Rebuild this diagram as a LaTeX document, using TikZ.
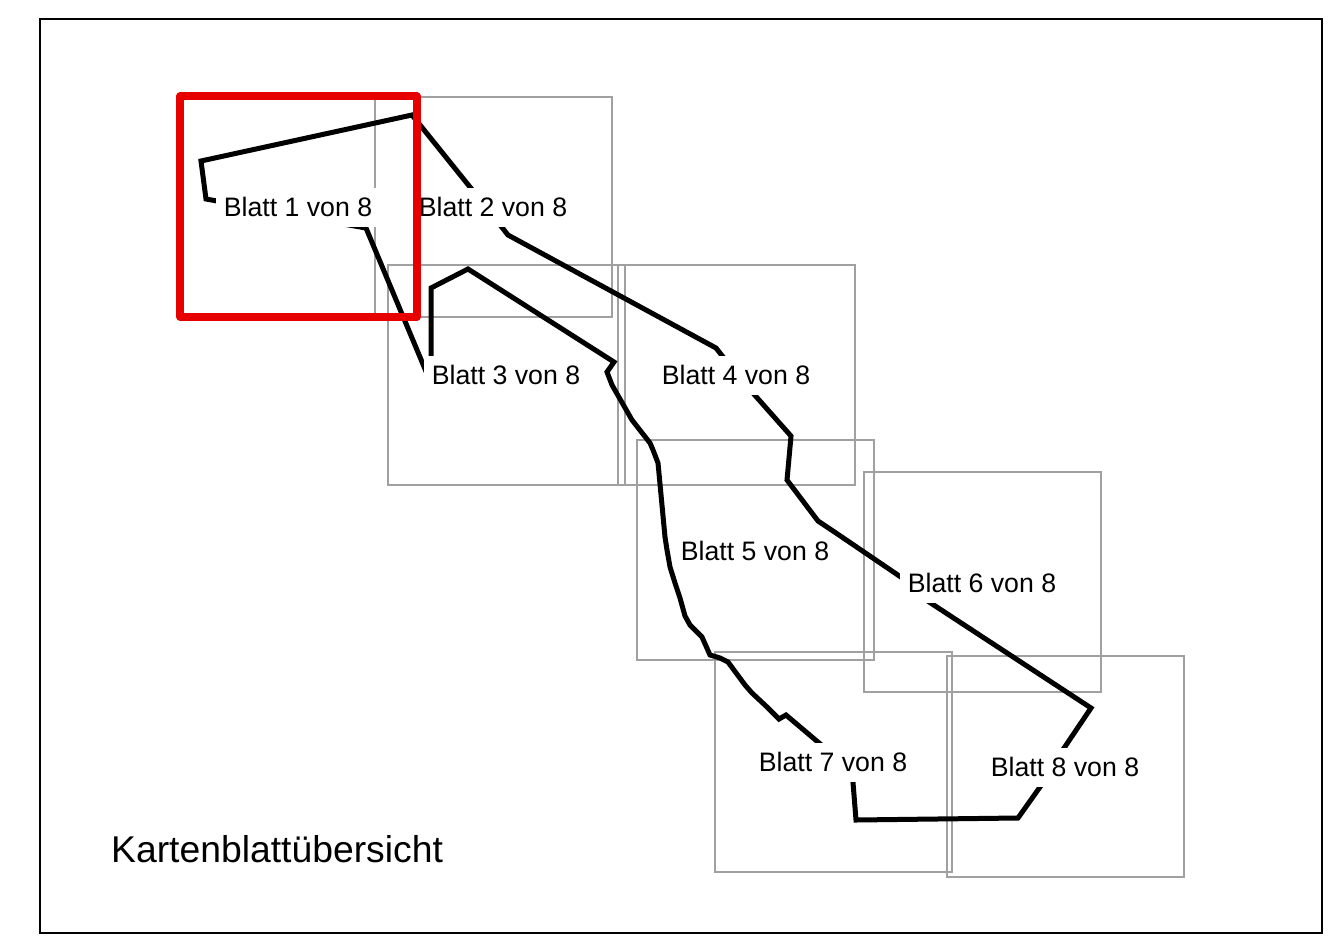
\documentclass[tikz,border=0pt]{standalone}
\usepackage{fontspec}
\setmainfont{Liberation Sans}
\definecolor{sheetgray}{RGB}{160,160,160}
\definecolor{sheetred}{RGB}{230,0,0}
\pgfdeclarelayer{under}
\pgfsetlayers{under,main}
\tikzset{
  x=1pt,y=-1pt,
  sheet/.style={draw=sheetgray,line width=2.5pt},
  route/.style={draw=black,line width=5pt,line join=miter,miter limit=4,line cap=butt},
  lbl/.style={font=\fontsize{26.7}{30}\selectfont,inner sep=0pt,anchor=center,text=black,fill=white,minimum width=164pt,minimum height=39pt},
  ttl/.style={font=\fontsize{37.3}{42}\selectfont,inner sep=0pt,anchor=west,text=black},
  frame/.style={draw=black,line width=2.2pt},
  active/.style={draw=sheetred,line width=7.2pt,line join=round}
}
\begin{document}
\begin{tikzpicture}
\useasboundingbox (0,0) rectangle (1337,944);
\node[lbl] (b1) at (298,207) {Blatt 1 von 8};
\node[lbl] (b2) at (493,207) {Blatt 2 von 8};
\node[lbl] (b3) at (506,375) {Blatt 3 von 8};
\node[lbl] (b4) at (736,375) {Blatt 4 von 8};
\node[lbl,minimum width=156pt,minimum height=34pt] (b5) at (755,551) {Blatt 5 von 8};
\node[lbl] (b6) at (982,583) {Blatt 6 von 8};
\node[lbl] (b7) at (833,762) {Blatt 7 von 8};
\node[lbl] (b8) at (1065,767) {Blatt 8 von 8};
\node[ttl] (title) at (111,849) {Kartenblattübersicht};
\begin{pgfonlayer}{under}
\fill[white] (0,0) rectangle (1337,944);
\draw[frame] (40,19) rectangle (1322,933);
\draw[sheet] (375,97) rectangle (612,317);
\draw[sheet] (388,265) rectangle (625,485);
\draw[sheet] (618,265) rectangle (855,485);
\draw[sheet] (637,440) rectangle (874,660);
\draw[sheet] (864,472) rectangle (1101,692);
\draw[sheet] (715,652) rectangle (952,872);
\draw[sheet] (947,656) rectangle (1184,877);
% one route from sheet to sheet; the labels' white boxes cut it
\draw[route] ([shift={(-70,-4)}]b1.center) -- (206,199) -- (201,161) -- (412,115)
  -- ([shift={(-15,-10)}]b2.center) -- ([shift={(15,28)}]b2.center) -- (716,348)
  -- ([shift={(-5,-8)}]b4.center) -- ([shift={(8,8)}]b4.center) -- (791,436)
  -- (787,480) -- (818,521) -- (836,533)
  -- ([shift={(-65,5)}]b6.center) -- ([shift={(-62,13)}]b6.center) -- (1091,708)
  -- ([shift={(-7,-10)}]b8.center) -- ([shift={(-16.5,8)}]b8.center) -- (1018,818)
  -- (856,820) -- ([shift={(19,8)}]b7.center) -- ([shift={(-8,-14)}]b7.center)
  -- (786,715) -- (779,719) -- (767,707) -- (752,693) -- (745,685) -- (728,662)
  -- (720,658) -- (710,655) -- (702,637) -- (690,625) -- (685,616) -- (680,598)
  -- (675,583) -- (670,567) -- (667,550) -- (665,537) -- (658,463) -- (653,450) -- (650,443)
  -- (632,420) -- (612,385) -- (607,372) -- (614,362) -- (468,269) -- (431,288)
  -- ([shift={(-75,-10)}]b3.center) -- ([shift={(-76,6)}]b3.center)
  -- (366,228) -- ([shift={(30,14.4)}]b1.center);
\end{pgfonlayer}
\draw[active] (180,96) rectangle (417,317);
\end{tikzpicture}
\end{document}
